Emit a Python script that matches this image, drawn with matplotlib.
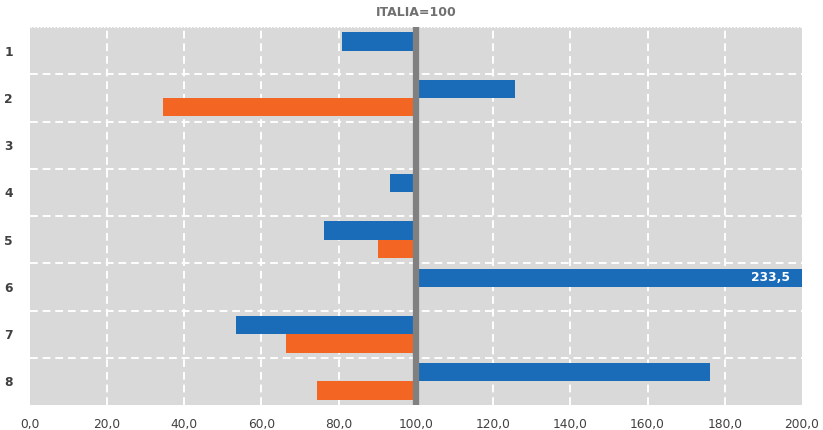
import numpy as np
import matplotlib
matplotlib.use("Agg")
import matplotlib.pyplot as plt
from matplotlib.ticker import FuncFormatter

categories = ["1", "2", "3", "4", "5", "6", "7", "8"]
blue_values = [80.9, 125.6, np.nan, 93.4, 76.3, 233.5, 53.5, 176.1]
orange_values = [np.nan, 34.5, np.nan, np.nan, 90.3, np.nan, 66.3, 74.5]
title = "ITALIA=100"
base = 100.0

BLUE = "#1a6cb9"
ORANGE = "#f26522"
BG = "#d9d9d9"

fig = plt.figure(figsize=(8.23, 4.30), dpi=100)
ax = fig.add_axes([0.036, 0.058, 0.9385, 0.879])
ax.set_facecolor(BG)

y = np.arange(len(categories))
h = 0.39
bv = np.array(blue_values, dtype=float)
ov = np.array(orange_values, dtype=float)
ax.barh(y - h / 2, bv - base, left=base, height=h, color=BLUE, zorder=3)
ax.barh(y + h / 2, ov - base, left=base, height=h, color=ORANGE, zorder=3)

ax.axvline(base, color="#808080", lw=4.5, zorder=4)

ax.set_xlim(0, 200)
ax.set_ylim(len(categories) - 0.5, -0.5)
xt = np.arange(0, 201, 20)
ax.set_xticks(xt)
ax.xaxis.set_major_formatter(FuncFormatter(lambda v, p: f"{v:.1f}".replace(".", ",")))
ax.set_yticks(y)
ax.set_yticklabels(categories)
ax.set_yticks(np.arange(0.5, len(categories) - 0.5, 1), minor=True)

for v in xt[1:-1]:
    ax.axvline(v, color="white", ls=(0, (4, 2.5)), lw=1.4, zorder=1)
ax.grid(axis="y", which="minor", color="white", ls=(0, (4, 2.5)), lw=1.4, zorder=1)
ax.axvline(200, color="white", ls=(0, (1.5, 1.5)), lw=0.8, zorder=1)
ax.axhline(-0.5, color="white", ls=(0, (1.5, 1.5)), lw=0.8, zorder=1)
ax.tick_params(axis="both", which="both", length=0, colors="#404040", labelsize=8.8)
ax.tick_params(axis="x", pad=9)
ax.tick_params(axis="y", pad=12)
for lbl in ax.get_yticklabels():
    lbl.set_fontweight("bold")
for s in ax.spines.values():
    s.set_visible(False)

# value label for the clipped bar
i6 = 5
ax.text(197, y[i6] - h / 2, f"{bv[i6]:.1f}".replace(".", ","), color="white",
        fontweight="bold", fontsize=8.8, ha="right", va="center", zorder=5)

ax.text(base, 1.022, title, transform=ax.get_xaxis_transform(), ha="center", va="bottom",
        color="#707070", fontweight="bold", fontsize=9)

fig.savefig("out.png", dpi=100)
